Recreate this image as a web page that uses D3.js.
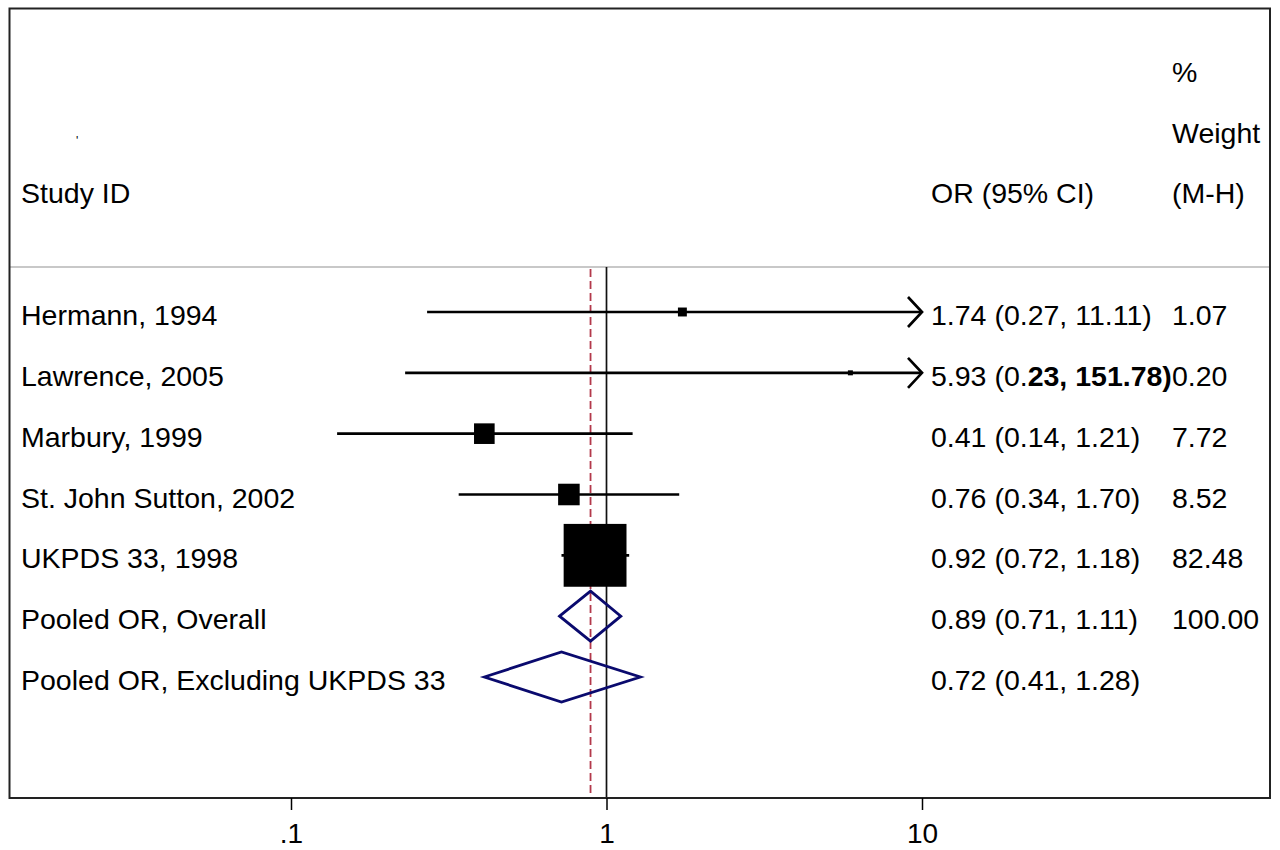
<!DOCTYPE html>
<html>
<head>
<meta charset="utf-8">
<script src="https://cdn.jsdelivr.net/npm/d3@7"></script>
<style>
  html, body { margin: 0; padding: 0; background: #fff; }
  text { font-family: "Liberation Sans", Arial, Helvetica, sans-serif; fill: #000; }
</style>
</head>
<body>
<svg id="chart" width="1280" height="850"></svg>
<script>
// ---- data ----
const studies = ["Hermann, 1994", "Lawrence, 2005", "Marbury, 1999", "St. John Sutton, 2002", "UKPDS 33, 1998"];
const studyOR = [1.74, 5.93, 0.41, 0.76, 0.92];
const studyLo = [0.27, 0.23, 0.14, 0.34, 0.72];
const studyHi = [11.11, 151.78, 1.21, 1.70, 1.18];
const studyWeight = [1.07, 0.20, 7.72, 8.52, 82.48];
const studyORText = ["1.74 (0.27, 11.11)", "5.93 (0.23, 151.78)", "0.41 (0.14, 1.21)", "0.76 (0.34, 1.70)", "0.92 (0.72, 1.18)"];
const studyWeightText = ["1.07", "0.20", "7.72", "8.52", "82.48"];

const pooledLabels = ["Pooled OR, Overall", "Pooled OR, Excluding UKPDS 33"];
const pooledOR = [0.89, 0.72];
const pooledLo = [0.71, 0.41];
const pooledHi = [1.11, 1.28];
const pooledORText = ["0.89 (0.71, 1.11)", "0.72 (0.41, 1.28)"];
const pooledWeightText = ["100.00", ""];

const tickValues = [0.1, 1, 10];
const tickLabels = [".1", "1", "10"];

const headerStudy = "Study ID";
const headerOR = "OR (95% CI)";
const headerWeight = ["%", "Weight", "(M-H)"];

// ---- layout ----
const svg = d3.select("#chart");
const box = { left: 9.5, top: 8.5, right: 1270, bottom: 798 };
const x = d3.scaleLog().domain([0.1, 10]).range([291, 922]);
const y = d3.scaleLinear().domain([0, 6]).range([312, 677]); // row centers
const rowStep = (y(6) - y(0)) / 6;
const base = 13; // text baseline offset from row center
const fs = 28.5;
const xLabel = 21, xOR = 931, xW = 1172;
const sep = 267;

// separator line
svg.append("line").attr("x1", box.left).attr("x2", box.right)
  .attr("y1", sep).attr("y2", sep).attr("stroke", "#c8c8c8").attr("stroke-width", 2);

// null line and pooled dashed line
svg.append("line").attr("x1", x(1)).attr("x2", x(1)).attr("y1", sep).attr("y2", box.bottom)
  .attr("stroke", "#111").attr("stroke-width", 1.7);
svg.append("line").attr("x1", x(pooledOR[0])).attr("x2", x(pooledOR[0])).attr("y1", sep + 2).attr("y2", box.bottom)
  .attr("stroke", "#b3394b").attr("stroke-width", 1.8).attr("stroke-dasharray", "8,4");

// headers
const hy = i => y(0) + rowStep * i + base;
svg.append("text").attr("x", xLabel).attr("y", hy(-2)).attr("font-size", fs).text(headerStudy);
svg.append("text").attr("x", xOR).attr("y", hy(-2)).attr("font-size", fs).text(headerOR);
headerWeight.forEach((t, i) => {
  svg.append("text").attr("x", xW).attr("y", hy(-4 + i)).attr("font-size", fs).text(t);
});
svg.append("text").attr("x", 76).attr("y", hy(-3) + 2).attr("font-size", 12).text("'");

// studies
const xmax = x.domain()[1], xmin = x.domain()[0];
const sideK = 6.7;
studies.forEach((s, i) => {
  const cy = y(i);
  const lo = Math.max(studyLo[i], xmin), hi = Math.min(studyHi[i], xmax);
  svg.append("line").attr("x1", x(lo)).attr("x2", x(hi)).attr("y1", cy).attr("y2", cy)
    .attr("stroke", "#000").attr("stroke-width", 2.7);
  if (studyHi[i] > xmax) {
    const tx = x(xmax);
    svg.append("path").attr("d", `M${tx - 14},${cy - 15}L${tx},${cy}L${tx - 14},${cy + 15}`)
      .attr("fill", "none").attr("stroke", "#000").attr("stroke-width", 2.7);
  }
  const side = sideK * Math.sqrt(studyWeight[i]);
  svg.append("rect").attr("x", x(studyOR[i]) - side / 2).attr("y", cy - side / 2)
    .attr("width", side).attr("height", side)
    .attr("fill", "#000").attr("stroke", "#000").attr("stroke-width", 2);
  svg.append("text").attr("x", xLabel).attr("y", cy + base).attr("font-size", fs).text(s);
  const t = svg.append("text").attr("x", xOR).attr("y", cy + base).attr("font-size", fs);
  if (i === 1) {
    const str = studyORText[i];
    t.append("tspan").text(str.slice(0, 8));
    t.append("tspan").attr("font-weight", "bold").text(str.slice(8));
  } else {
    t.text(studyORText[i]);
  }
  svg.append("text").attr("x", xW).attr("y", cy + base).attr("font-size", fs).text(studyWeightText[i]);
});

// pooled diamonds
pooledLabels.forEach((s, j) => {
  const cy = y(studies.length + j);
  const h = 25;
  svg.append("path")
    .attr("d", `M${x(pooledLo[j])},${cy}L${x(pooledOR[j])},${cy - h}L${x(pooledHi[j])},${cy}L${x(pooledOR[j])},${cy + h}Z`)
    .attr("fill", "none").attr("stroke", "#0a0a6e").attr("stroke-width", 2.8);
  svg.append("text").attr("x", xLabel).attr("y", cy + base).attr("font-size", fs).text(s);
  svg.append("text").attr("x", xOR).attr("y", cy + base).attr("font-size", fs).text(pooledORText[j]);
  svg.append("text").attr("x", xW).attr("y", cy + base).attr("font-size", fs).text(pooledWeightText[j]);
});

// frame
svg.append("rect").attr("x", box.left).attr("y", box.top)
  .attr("width", box.right - box.left).attr("height", box.bottom - box.top)
  .attr("fill", "none").attr("stroke", "#222").attr("stroke-width", 2);

// axis
const axis = d3.axisBottom(x).tickValues(tickValues)
  .tickFormat((d, i) => tickLabels[i]).tickSize(12).tickPadding(13);
const ag = svg.append("g").attr("transform", `translate(0,${box.bottom})`).call(axis);
ag.select(".domain").remove();
ag.selectAll(".tick line").attr("stroke", "#000").attr("stroke-width", 1.5);
ag.selectAll(".tick text").attr("font-size", 28)
  .attr("font-family", '"Liberation Sans", Arial, sans-serif').attr("fill", "#000");
</script>
</body>
</html>
